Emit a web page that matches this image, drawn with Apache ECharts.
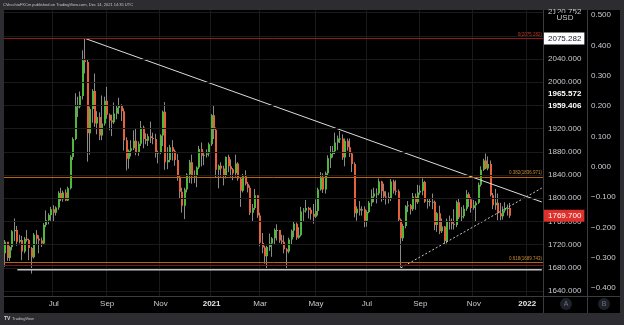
<!DOCTYPE html>
<html><head><meta charset="utf-8">
<script src="https://cdn.jsdelivr.net/npm/echarts@6/dist/echarts.min.js"></script>
<style>html,body{margin:0;padding:0;background:#2d2d31;}#c{width:624px;height:325px;}</style>
</head><body><div id="c"></div>
<script>
// ---------- data ----------
const startDate = '2020-05-06';
const holidays = ['2020-12-25', '2021-01-01'];
const daysPerBar = 2;
const barSlots = 222;
const monthNames = ['Jan','Feb','Mar','Apr','May','Jun','Jul','Aug','Sep','Oct','Nov','Dec'];
const labelMonths = [0, 2, 4, 6, 8, 10];
// [open, close, low, high], each bar = 2 trading days (XAU/USD)
const ohlc = [
[1705,1725,1682,1728],[1725,1697,1692,1722],[1697,1716,1692,1718],[1716,1743,1710,1745],[1743,1745,1726,1765],
[1745,1725,1718,1752],[1725,1728,1722,1737],[1728,1708,1693,1735],[1708,1730,1705,1733],[1730,1728,1725,1745],
[1728,1714,1693,1730],[1714,1698,1670,1716],[1698,1737,1696,1740],[1737,1730,1720,1745],[1730,1727,1705,1736],
[1727,1722,1716,1732],[1722,1754,1720,1757],[1754,1762,1750,1779],[1762,1771,1755,1774],[1771,1781,1761,1785],
[1781,1775,1760,1788],[1775,1784,1770,1786],[1784,1809,1780,1812],[1809,1798,1795,1818],[1798,1810,1794,1813],
[1810,1796,1795,1815],[1796,1817,1795,1820],[1817,1871,1815,1874],[1871,1902,1866,1905],[1902,1958,1900,1981],
[1958,1958,1940,1975],[1958,1976,1955,1984],[1976,2038,1970,2055],[2038,2035,2015,2075.28],[2035,1912,1863,2040],
[1912,1954,1875,1958],[1954,1985,1930,1988],[1985,1929,1923,2015],[1929,1940,1910,1950],[1940,1908,1900,1948],
[1908,1929,1900,1977],[1929,1968,1925,1975],[1968,1944,1937,1992],[1944,1934,1917,1946],[1934,1931,1907,1944],
[1931,1946,1928,1965],[1946,1956,1936,1960],[1956,1960,1945,1973],[1960,1950,1933,1962],[1950,1900,1882,1955],
[1900,1868,1848,1905],[1868,1882,1851,1884],[1882,1886,1872,1900],[1886,1899,1883,1917],[1899,1878,1874,1920],
[1878,1894,1873,1898],[1894,1922,1890,1933],[1922,1902,1886,1925],[1902,1899,1893,1912],[1899,1907,1890,1911],
[1907,1904,1895,1932],[1904,1902,1893,1913],[1902,1877,1870,1911],[1877,1879,1860,1882],[1879,1908,1876,1910],
[1908,1949,1890,1951],[1949,1862,1849,1965.57],[1862,1866,1850,1888],[1866,1888,1862,1892],[1888,1881,1865,1900],
[1881,1866,1856,1884],[1866,1837,1830,1876],[1837,1811,1800,1840],[1811,1787,1775,1818],[1787,1815,1764,1818],
[1815,1841,1810,1843],[1841,1862,1826,1866],[1862,1838,1825,1875],[1838,1839,1826,1848],[1839,1853,1819,1855],
[1853,1885,1850,1890],[1885,1873,1855,1896],[1873,1875,1857,1880],[1875,1877,1870,1884],[1877,1893,1872,1896],
[1893,1943,1890,1945],[1943,1918,1902,1959.41],[1918,1849,1836,1922],[1849,1856,1817,1858],[1856,1851,1837,1862],
[1851,1840,1822,1856],[1840,1871,1834,1872],[1871,1855,1845,1875],[1855,1850,1837,1867],[1850,1843,1831,1852],
[1843,1860,1837,1875],[1860,1834,1830,1862],[1834,1813,1785,1836],[1813,1838,1810,1842],[1838,1825,1822,1848],
[1825,1818,1810,1828],[1818,1775,1771,1822],[1775,1783,1760,1790],[1783,1805,1780,1816],[1805,1770,1766,1805],
[1770,1723,1717,1775],[1723,1715,1705,1740],[1715,1700,1687,1718],[1700,1716,1676,1718],[1716,1722,1709,1739],
[1722,1731,1699,1733],[1731,1745,1720,1748],[1745,1745,1727,1755],[1745,1727,1723,1745],[1727,1725,1720,1737],
[1725,1712,1705,1736],[1712,1708,1677,1714],[1708,1729,1705,1732],[1729,1744,1721,1746],[1744,1756,1733,1759],
[1756,1732,1728,1758],[1732,1736,1730,1750],[1736,1777,1734,1785],[1777,1779,1760,1783],[1779,1783,1775,1797],
[1783,1780,1765,1785],[1780,1773,1763,1784],[1773,1768,1756,1790],[1768,1778,1766,1798],[1778,1815,1770,1818],
[1815,1837,1813,1845],[1837,1815,1809,1843],[1815,1843,1808,1846],[1843,1869,1838,1874],[1869,1876,1852,1890],
[1876,1881,1870,1890],[1881,1896,1876,1913],[1896,1903,1883,1908],[1903,1903,1895,1916],[1903,1870,1866,1910],
[1870,1899,1855,1903],[1899,1888,1882,1903],[1888,1877,1871,1903],[1877,1859,1845,1880],[1859,1774,1767,1862],
[1774,1782,1761,1786],[1782,1779,1770,1795],[1779,1781,1770,1786],[1781,1761,1750,1786],[1761,1776,1751,1779],
[1776,1792,1774,1795],[1792,1803,1786,1815],[1803,1808,1793,1818],[1808,1808,1791,1817],[1808,1829,1805,1834],
[1829,1812,1794,1830],[1812,1803,1797,1825],[1803,1802,1789,1812],[1802,1799,1791,1810],[1799,1829,1795,1833],
[1829,1813,1808,1832],[1813,1812,1805,1831],[1812,1763,1759,1815],[1763,1731,1680,1765],[1731,1752,1726,1756],
[1752,1786,1748,1788],[1786,1788,1776,1795],[1788,1781,1772,1790],[1781,1803,1778,1809],[1803,1793,1780,1808],
[1793,1810,1790,1823],[1810,1813,1806,1822],[1813,1828,1805,1834],[1828,1794,1792,1830],[1794,1795,1782,1800],
[1795,1794,1786,1800],[1794,1794,1781,1808],[1794,1754,1745,1796],[1754,1774,1742,1776],[1774,1743,1738,1787],
[1743,1751,1740,1765],[1751,1726,1721,1752],[1726,1761,1722,1765],[1761,1760,1746,1770],[1760,1756,1746,1765],
[1756,1754,1746,1781],[1754,1793,1750,1796],[1793,1767,1764,1800],[1767,1769,1760,1785],[1769,1782,1765,1788],
[1782,1807,1778,1814],[1807,1798,1785,1810],[1798,1783,1775,1802],[1783,1788,1780,1797],[1788,1792,1759,1795],
[1792,1823,1790,1827],[1823,1849,1820,1855],[1849,1865,1847,1868],[1865,1851,1850,1877],[1851,1859,1848,1872],
[1859,1805,1803,1865],[1805,1788,1781,1809],[1788,1792,1780,1816],[1792,1774,1762,1808],[1774,1769,1762,1792],
[1769,1779,1763,1786],[1779,1783,1775,1793],[1783,1783,1770,1789],[1783,1769.7,1766,1792]
];
const gridPrices = [1640,1680,1720,1760,1800,1840,1880,1920,1960,2000,2040,2080,2120];
const priceLabels = [1640,1680,1720,1760,1800,1840,1880,1920,2000,2040];
const scaleB = [0.5,0.4,0.3,0.2,0.1,0,-0.1,-0.2,-0.3,-0.4];
const fibValues = [2075.282, 1836.971, 1689.743, 1684];
const fibTexts = ['0(2075.282)', '0.382(1836.971)', '0.618(1689.743)', ''];
const resistanceLine = [[33, 2075.282], [221, 1793.5]];
const risingLine = [[163, 1680], [221, 1817.5]];
const supportLine = [[5, 1677], [221, 1677]];
const peakPrice = 2075.282;
const highMarks = [1965.572, 1959.406];
const topMark = 2120.752;

// ---------- build ----------
function buildDays(n){
  const out = []; const d = new Date(startDate + 'T00:00:00Z');
  while (out.length < n){
    const wd = d.getUTCDay(); const iso = d.toISOString().slice(0,10);
    if (wd !== 0 && wd !== 6 && holidays.indexOf(iso) < 0) out.push(new Date(d.getTime()));
    d.setUTCDate(d.getUTCDate() + 1);
  }
  return out;
}
const days = buildDays(barSlots * daysPerBar);
const categories = []; const tickText = {};
for (let k = 0; k < barSlots; k++){
  categories.push(days[k*daysPerBar].toISOString().slice(0,10));
  for (let j = k*daysPerBar; j < (k+1)*daysPerBar; j++){
    const m = days[j].getUTCMonth();
    if (j > 0 && days[j-1].getUTCMonth() !== m && labelMonths.indexOf(m) >= 0){
      tickText[k] = m === 0 ? String(days[j].getUTCFullYear()) : monthNames[m];
    }
  }
}
const lastClose = ohlc[ohlc.length-1][1];
const candleData = ohlc.map((d, i) => [i, d[0], d[1], d[2], d[3]]);

const UP = '#4fb83c', DOWN = '#e5603b', WICK = '#8a8a8a';
const TXT = '#c8cad0';
const FONT = '"Liberation Sans", Arial, sans-serif';
const CLEAR = 'rgba(0,0,0,0)';

function renderCandle(params, api){
  const i = api.value(0);
  const o = api.value(1), c = api.value(2), lo = api.value(3), hi = api.value(4);
  const pH = api.coord([i, hi]), pL = api.coord([i, lo]), pO = api.coord([i, o]), pC = api.coord([i, c]);
  const px = Math.round(pH[0]) - 1;
  const top = Math.min(pO[1], pC[1]);
  const h = Math.max(1, Math.abs(pO[1] - pC[1]));
  return {type:'group', children:[
    {type:'line', shape:{x1:px+0.5, y1:pH[1], x2:px+0.5, y2:pL[1]}, style:{stroke:WICK, lineWidth:1}},
    {type:'rect', shape:{x:px, y:top, width:2, height:h}, style:{fill: c >= o ? UP : DOWN}}
  ]};
}

const fibColors = ['#8e1c1c', '#b8650e', '#b8650e', '#7a1616'];
const fibTextColors = ['#c0392b', '#c98a36', '#c98a36', '#a33'];

const chart = echarts.init(document.getElementById('c'), null, {renderer:'canvas'});
const option = {
  backgroundColor: '#2d2d31',
  animation: false,
  textStyle: {fontFamily: FONT},
  grid: {left: 4, right: 81, top: 10, bottom: 29},
  xAxis: {
    type: 'category', data: categories, boundaryGap: true,
    axisLine: {show: false}, axisTick: {show: false},
    axisLabel: {
      interval: (i) => tickText[i] !== undefined,
      formatter: (v, i) => { const t = tickText[i] || ''; return /^\d{4}$/.test(t) ? '{y|' + t + '}' : t; },
      color: TXT, fontSize: 8, margin: 4, fontFamily: FONT,
      rich: {y: {fontWeight: 'bold', color: '#e6e7ea', fontSize: 8, fontFamily: FONT}}
    },
    splitLine: {show: true, interval: (i) => tickText[i] !== undefined, lineStyle: {color: '#1a1a1a', width: 1}}
  },
  yAxis: [
    {type: 'value', min: 1631.38, max: 2124.48, position: 'right', axisLine: {show: false}, axisTick: {show: false}, axisLabel: {show: false}, splitLine: {show: false}},
    {type: 'value', min: -0.4254, max: 0.5165, position: 'right', show: false, splitLine: {show: false}}
  ],
  graphic: [
    {type: 'rect', z: -10, silent: true, shape: {x: 4, y: 10, width: 616, height: 303}, style: {fill: '#000000'}},
    {type: 'line', z: 50, silent: true, shape: {x1: 543.5, y1: 10, x2: 543.5, y2: 313}, style: {stroke: '#3c3c40', lineWidth: 1}},
    {type: 'line', z: 50, silent: true, shape: {x1: 587.5, y1: 10, x2: 587.5, y2: 313}, style: {stroke: '#3c3c40', lineWidth: 1}},
    {type: 'line', z: 50, silent: true, shape: {x1: 4, y1: 296.5, x2: 620, y2: 296.5}, style: {stroke: '#3c3c40', lineWidth: 1}},
    {type: 'text', z: 60, silent: true, x: 3, y: 3, style: {text: 'CVecchioFXCm published on TradingView.com, Dec 14, 2021 14:35 UTC', fill: '#c4c4c8', fontSize: 4, fontFamily: FONT}},
    {type: 'text', z: 60, silent: true, x: 4, y: 316, style: {text: 'TV', fill: '#d0d0d4', fontSize: 5, fontWeight: 'bold', fontFamily: FONT}},
    {type: 'text', z: 60, silent: true, x: 12, y: 316.5, style: {text: 'TradingView', fill: '#c4c4c8', fontSize: 4, fontFamily: FONT}},
    {type: 'circle', z: 60, silent: true, shape: {cx: 566, cy: 304, r: 6}, style: {fill: '#1e2129'}},
    {type: 'text', z: 61, silent: true, x: 566, y: 304, style: {text: 'A', fill: '#6f737e', fontSize: 7, fontFamily: FONT, align: 'center', verticalAlign: 'middle'}},
    {type: 'circle', z: 60, silent: true, shape: {cx: 604, cy: 304, r: 6}, style: {fill: '#1e2129'}},
    {type: 'text', z: 61, silent: true, x: 604, y: 304, style: {text: 'B', fill: '#6f737e', fontSize: 7, fontFamily: FONT, align: 'center', verticalAlign: 'middle'}},
    {type: 'rect', z: 70, silent: true, shape: {x: 555, y: 13, width: 20, height: 9}, style: {fill: '#000000'}},
    {type: 'text', z: 71, silent: true, x: 565, y: 17.5, style: {text: 'USD', fill: TXT, fontSize: 8, fontFamily: FONT, align: 'center', verticalAlign: 'middle'}}
  ],
  series: [
    { // horizontal grid
      type: 'line', z: 1, data: [[0, null]], showSymbol: false, silent: true,
      markLine: {silent: true, symbol: 'none', animation: false, label: {show: false},
        lineStyle: {color: '#1a1a1a', width: 1, type: 'solid'},
        data: gridPrices.map(v => ({yAxis: v}))}
    },
    { // fib levels
      type: 'line', z: 2, data: [[0, null]], showSymbol: false, silent: true,
      markLine: {silent: true, symbol: 'none', animation: false,
        data: fibValues.map((v, k) => ({yAxis: v,
          lineStyle: {color: fibColors[k], width: 1, type: 'solid'},
          label: {show: fibTexts[k] !== '', formatter: fibTexts[k], position: 'insideEndTop', distance: 1, fontSize: 4.5, color: fibTextColors[k], fontFamily: FONT}}))}
    },
    {
      type: 'custom', z: 3, renderItem: renderCandle, data: candleData,
      encode: {x: 0, y: [1, 2, 3, 4]}, clip: true, silent: true
    },
    {type: 'line', z: 4, data: supportLine, showSymbol: false, silent: true, lineStyle: {color: '#c4c4c4', width: 2}},
    {type: 'line', z: 4, data: resistanceLine, showSymbol: false, silent: true, lineStyle: {color: '#dcdcdc', width: 1}},
    {type: 'line', z: 4, data: risingLine, showSymbol: false, silent: true, lineStyle: {color: '#c8c8c8', width: 1, type: [2, 2]}},
    { // price scale A labels
      type: 'line', z: 10, data: [[0, null]], showSymbol: false, silent: true,
      markLine: {silent: true, symbol: 'none', animation: false, lineStyle: {color: CLEAR, width: 0},
        label: {show: true, position: 'end', distance: 5, color: TXT, fontSize: 8, fontFamily: FONT, formatter: p => Number(p.value).toFixed(3)},
        data: priceLabels.map(v => ({yAxis: v}))}
    },
    { // special price labels
      type: 'line', z: 12, data: [[0, null]], showSymbol: false, silent: true,
      markLine: {silent: true, symbol: 'none', animation: false, lineStyle: {color: CLEAR, width: 0},
        data: [
          {yAxis: topMark, label: {show: true, position: 'end', distance: 5, color: TXT, fontSize: 8, fontFamily: FONT, formatter: topMark.toFixed(3)}},
          {yAxis: peakPrice, label: {show: true, position: 'end', distance: 0, color: '#131722', backgroundColor: '#ffffff', padding: [2, 3, 2, 5], fontSize: 8, fontFamily: FONT, formatter: peakPrice.toFixed(3)}},
          {yAxis: highMarks[0], label: {show: true, position: 'end', distance: 5, color: '#ffffff', fontWeight: 'bold', fontSize: 8, lineHeight: 8, fontFamily: FONT, formatter: highMarks[0].toFixed(3) + '\n \n '}},
          {yAxis: highMarks[1], label: {show: true, position: 'end', distance: 5, color: '#ffffff', fontWeight: 'bold', fontSize: 8, fontFamily: FONT, formatter: highMarks[1].toFixed(3)}},
          {yAxis: lastClose, label: {show: true, position: 'end', distance: 0, color: '#ffffff', backgroundColor: '#e0302c', padding: [2, 3, 2, 5], fontSize: 8, fontFamily: FONT, formatter: lastClose.toFixed(3)}}
        ]}
    },
    { // scale B labels
      type: 'line', z: 10, yAxisIndex: 1, data: [[0, null]], showSymbol: false, silent: true,
      markLine: {silent: true, symbol: 'none', animation: false, lineStyle: {color: CLEAR, width: 0},
        label: {show: true, position: 'end', distance: 48, color: TXT, fontSize: 8, fontFamily: FONT,
          formatter: p => { const v = Number(p.value); return (v < 0 ? '\u2212' : '') + Math.abs(v).toFixed(3); }},
        data: scaleB.map(v => ({yAxis: v}))}
    }
  ]
};
chart.setOption(option);
</script>
</body></html>
